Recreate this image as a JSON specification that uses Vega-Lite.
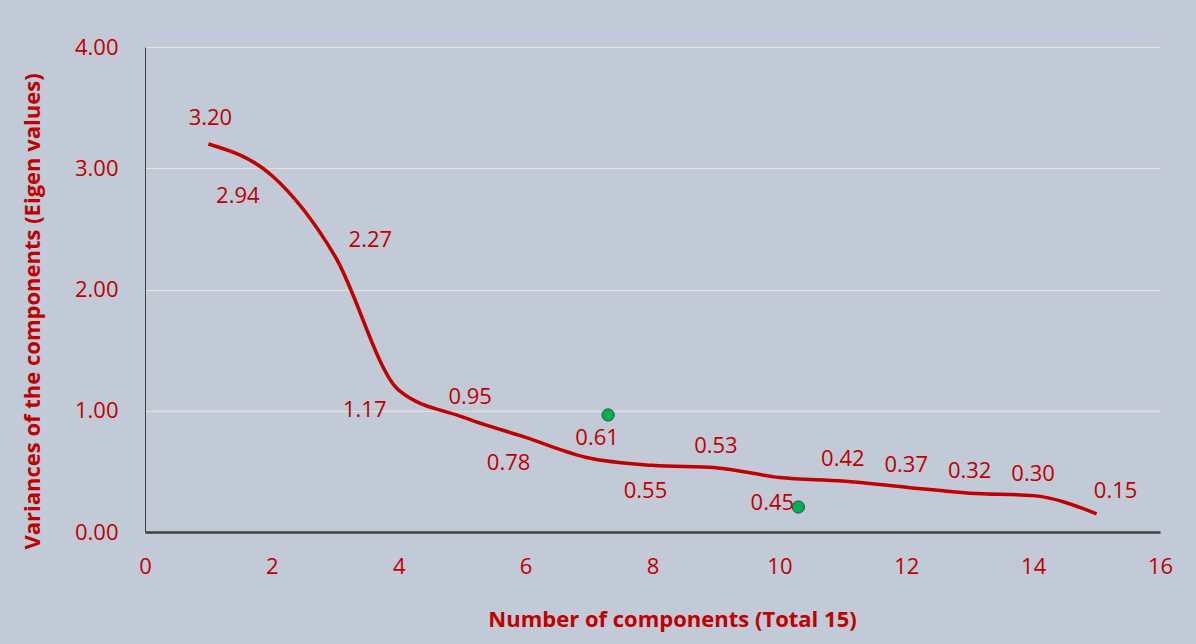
{
  "$schema": "https://vega.github.io/schema/vega-lite/v6.json",
  "width": 1015,
  "height": 485,
  "autosize": {"type": "none"},
  "padding": {"left": 145, "top": 47, "right": 36, "bottom": 112},
  "background": "#C1CAD6",
  "config": {
    "view": {"stroke": null},
    "font": "Open Sans",
    "axis": {
      "labelFont": "Open Sans",
      "titleFont": "Open Sans",
      "labelColor": "#C00000",
      "titleColor": "#C00000",
      "labelFontSize": 22,
      "titleFontSize": 22,
      "titleFontWeight": "bold",
      "ticks": false,
      "gridColor": "#E6E2D8",
      "gridWidth": 1.2,
      "domainColor": "#404040"
    }
  },
  "datasets": {
    "eig": [
      {"component": 1, "eigen": 3.20},
      {"component": 2, "eigen": 2.94},
      {"component": 3, "eigen": 2.27},
      {"component": 4, "eigen": 1.17},
      {"component": 5, "eigen": 0.95},
      {"component": 6, "eigen": 0.78},
      {"component": 7, "eigen": 0.61},
      {"component": 8, "eigen": 0.55},
      {"component": 9, "eigen": 0.53},
      {"component": 10, "eigen": 0.45},
      {"component": 11, "eigen": 0.42},
      {"component": 12, "eigen": 0.37},
      {"component": 13, "eigen": 0.32},
      {"component": 14, "eigen": 0.30},
      {"component": 15, "eigen": 0.15}
    ],
    "dots": [
      {"component": 7.3, "eigen": 0.965},
      {"component": 10.3, "eigen": 0.206}
    ]
  },
  "data": {"name": "eig"},
  "encoding": {
    "x": {
      "field": "component", "type": "quantitative",
      "scale": {"domain": [0, 16], "nice": false},
      "axis": {"values": [0, 2, 4, 6, 8, 10, 12, 14, 16], "grid": false, "labelPadding": 24, "title": "Number of components (Total 15)", "titlePadding": 32, "titleX": 527, "domainWidth": 2.5, "labelFlush": false}
    },
    "y": {
      "field": "eigen", "type": "quantitative",
      "scale": {"domain": [0, 4], "nice": false},
      "axis": {"values": [0, 1, 2, 3, 4], "format": ".2f", "labelPadding": 27, "title": "Variances of the components (Eigen values)", "titlePadding": 30, "titleY": 264, "domainWidth": 1}
    }
  },
  "layer": [
    {
      "mark": {"type": "line", "color": "#C00000", "strokeWidth": 3.5, "interpolate": "monotone"}
    },
    {
      "transform": [{"filter": {"field": "component", "oneOf": [1]}}],
      "mark": {"type": "text", "color": "#C00000", "fontSize": 22, "font": "Open Sans", "dx": 2, "dy": -26},
      "encoding": {"text": {"field": "eigen", "type": "quantitative", "format": ".2f"}}
    },
    {
      "transform": [{"filter": {"field": "component", "oneOf": [3]}}],
      "mark": {"type": "text", "color": "#C00000", "fontSize": 22, "font": "Open Sans", "dx": 35, "dy": -17},
      "encoding": {"text": {"field": "eigen", "type": "quantitative", "format": ".2f"}}
    },
    {
      "transform": [{"filter": {"field": "component", "oneOf": [5, 7]}}],
      "mark": {"type": "text", "color": "#C00000", "fontSize": 22, "font": "Open Sans", "dx": 8, "dy": -20},
      "encoding": {"text": {"field": "eigen", "type": "quantitative", "format": ".2f"}}
    },
    {
      "transform": [{"filter": {"field": "component", "oneOf": [15]}}],
      "mark": {"type": "text", "color": "#C00000", "fontSize": 22, "font": "Open Sans", "dx": 19, "dy": -23},
      "encoding": {"text": {"field": "eigen", "type": "quantitative", "format": ".2f"}}
    },
    {
      "transform": [{"filter": {"field": "component", "oneOf": [2, 4]}}],
      "mark": {"type": "text", "color": "#C00000", "fontSize": 22, "font": "Open Sans", "dx": -34, "dy": 20},
      "encoding": {"text": {"field": "eigen", "type": "quantitative", "format": ".2f"}}
    },
    {
      "transform": [{"filter": {"field": "component", "oneOf": [6]}}],
      "mark": {"type": "text", "color": "#C00000", "fontSize": 22, "font": "Open Sans", "dx": -17, "dy": 26},
      "encoding": {"text": {"field": "eigen", "type": "quantitative", "format": ".2f"}}
    },
    {
      "transform": [{"filter": {"field": "component", "oneOf": [8, 10]}}],
      "mark": {"type": "text", "color": "#C00000", "fontSize": 22, "font": "Open Sans", "dx": -7, "dy": 26},
      "encoding": {"text": {"field": "eigen", "type": "quantitative", "format": ".2f"}}
    },
    {
      "transform": [{"filter": {"field": "component", "oneOf": [9, 11, 12, 13, 14]}}],
      "mark": {"type": "text", "color": "#C00000", "fontSize": 22, "font": "Open Sans", "dx": 0, "dy": -22},
      "encoding": {"text": {"field": "eigen", "type": "quantitative", "format": ".2f"}}
    },
    {
      "data": {"name": "dots"},
      "mark": {"type": "point", "filled": true, "fill": "#00B050", "stroke": "#2F4F3F", "strokeWidth": 1, "size": 150, "opacity": 1}
    }
  ]
}
